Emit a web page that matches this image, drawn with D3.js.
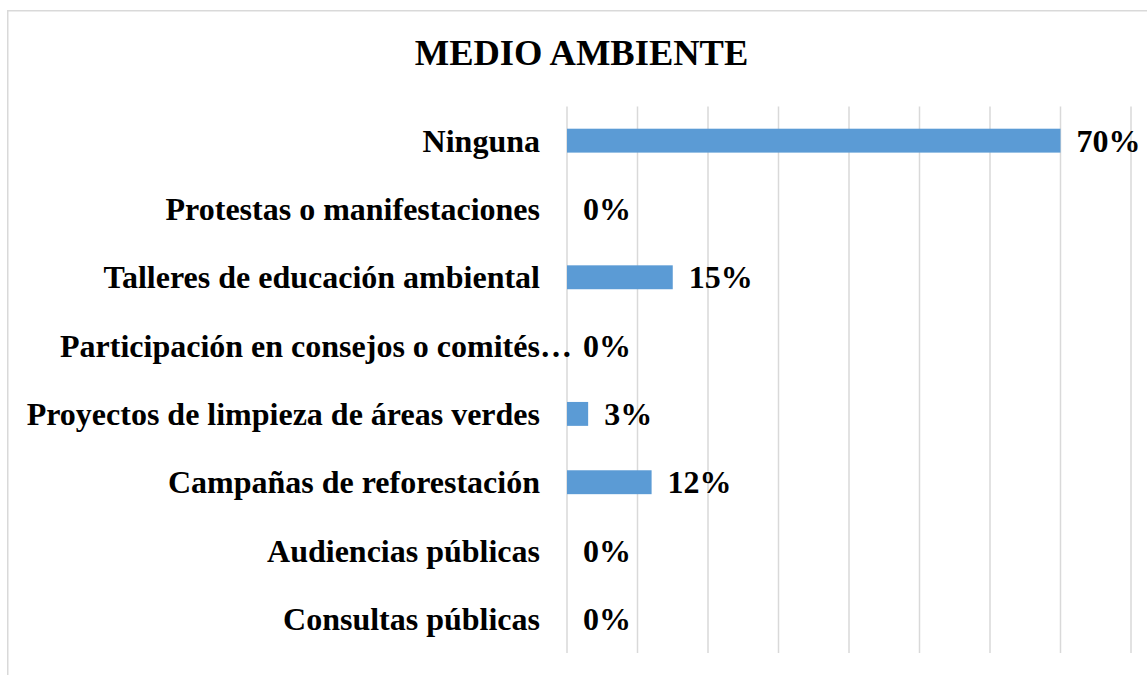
<!DOCTYPE html>
<html>
<head>
<meta charset="utf-8">
<script src="https://cdn.jsdelivr.net/npm/d3@7"></script>
<style>
  html, body { margin: 0; padding: 0; background: #fff; }
  svg { display: block; }
  text { font-family: "Liberation Serif", "Times New Roman", serif; font-weight: bold; fill: #000; }
</style>
</head>
<body>
<svg id="chart" width="1147" height="675"></svg>
<script>
const title = "MEDIO AMBIENTE";
const categories = [
  "Ninguna",
  "Protestas o manifestaciones",
  "Talleres de educación ambiental",
  "Participación en consejos o comités…",
  "Proyectos de limpieza de áreas verdes",
  "Campañas de reforestación",
  "Audiencias públicas",
  "Consultas públicas"
];
const values = [70, 0, 15, 0, 3, 12, 0, 0];
const gridTicks = [0, 10, 20, 30, 40, 50, 60, 70, 80];

const svg = d3.select("#chart");

// chart border
svg.append("rect")
  .attr("x", 7.75).attr("y", 10.75)
  .attr("width", 1160).attr("height", 700)
  .attr("fill", "none").attr("stroke", "#d9d9d9").attr("stroke-width", 1.5);

const plot = { left: 567, right: 1131, top: 106.5, bottom: 653 };

const x = d3.scaleLinear().domain([0, 80]).range([plot.left, plot.right]);
const y = d3.scaleBand().domain(categories).range([plot.top, plot.bottom]).paddingInner(0.65).paddingOuter(0.325);

// gridlines
svg.append("g").selectAll("line").data(gridTicks).join("line")
  .attr("x1", d => x(d)).attr("x2", d => x(d))
  .attr("y1", plot.top).attr("y2", plot.bottom)
  .attr("stroke", "#d9d9d9").attr("stroke-width", 1.5);

// bars
svg.append("g").selectAll("rect").data(values).join("rect")
  .attr("x", x(0))
  .attr("y", (d, i) => y(categories[i]))
  .attr("width", d => x(d) - x(0))
  .attr("height", y.bandwidth())
  .attr("fill", "#5B9BD5");

// value labels
svg.append("g").selectAll("text").data(values).join("text")
  .attr("x", d => x(d) + 16)
  .attr("y", (d, i) => y(categories[i]) + y.bandwidth() / 2)
  .attr("dy", "0.35em")
  .attr("font-size", 32)
  .text(d => d + "%");

// category labels (truncated label starts at the left label margin)
const labelRight = 540, truncatedLeft = 60;
svg.append("g").selectAll("text").data(categories).join("text")
  .attr("y", d => y(d) + y.bandwidth() / 2)
  .attr("dy", "0.35em")
  .attr("font-size", 32)
  .attr("x", d => d.endsWith("…") ? truncatedLeft : labelRight)
  .attr("text-anchor", d => d.endsWith("…") ? "start" : "end")
  .text(d => d);

// title
svg.append("text")
  .attr("x", 581.5).attr("y", 65)
  .attr("text-anchor", "middle")
  .attr("font-size", 36.5)
  .text(title);
</script>
</body>
</html>
